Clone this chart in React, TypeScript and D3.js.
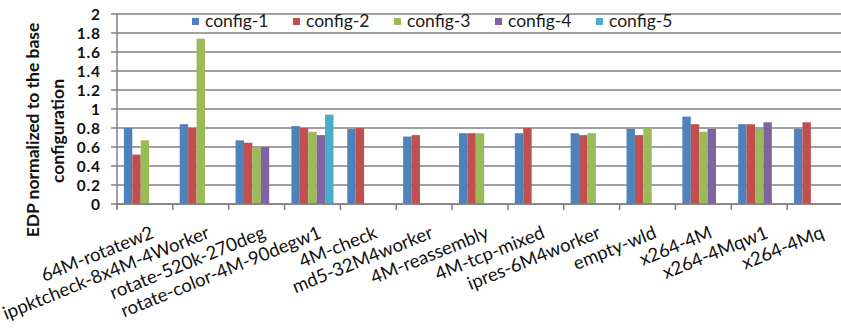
import React from "react";
import * as d3 from "d3";

// Benchmarks on the x axis
const categories = [
  "64M-rotatew2",
  "ippktcheck-8x4M-4Worker",
  "rotate-520k-270deg",
  "rotate-color-4M-90degw1",
  "4M-check",
  "md5-32M4worker",
  "4M-reassembly",
  "4M-tcp-mixed",
  "ipres-6M4worker",
  "empty-wld",
  "x264-4M",
  "x264-4Mqw1",
  "x264-4Mq",
];

const seriesNames = ["config-1", "config-2", "config-3", "config-4", "config-5"];

// EDP per configuration (null = not measured)
const config1 = [0.8, 0.84, 0.67, 0.82, 0.79, 0.71, 0.745, 0.745, 0.745, 0.79, 0.92, 0.84, 0.79];
const config2 = [0.52, 0.8, 0.645, 0.8, 0.8, 0.725, 0.745, 0.8, 0.725, 0.725, 0.84, 0.84, 0.86];
const config3 = [0.67, 1.74, 0.6, 0.76, null, null, 0.745, null, 0.745, 0.8, 0.76, 0.79, null];
const config4 = [null, null, 0.6, 0.725, null, null, null, null, null, null, 0.79, 0.86, null];
const config5 = [null, null, null, 0.94, null, null, null, null, null, null, null, null, null];

const seriesValues: (number | null)[][] = [config1, config2, config3, config4, config5];
const seriesColors = ["#4F81BD", "#C0504D", "#9BBB59", "#8064A2", "#4BACC6"];

const yTickValues = [0, 0.2, 0.4, 0.6, 0.8, 1, 1.2, 1.4, 1.6, 1.8, 2];
const yTickLabels = ["0", "0.2", "0.4", "0.6", "0.8", "1", "1.2", "1.4", "1.6", "1.8", "2"];

const W = 841;
const H = 336;
const plot = { left: 117, right: 843, top: 14, bottom: 204 };
const FONT = "Lato, 'Open Sans', sans-serif";

export default function App() {
  const x = d3
    .scaleBand<string>()
    .domain(categories)
    .range([plot.left, plot.right])
    .paddingInner(0)
    .paddingOuter(0);
  const xs = d3
    .scaleBand<string>()
    .domain(seriesNames)
    .range([0, x.bandwidth()])
    .paddingInner(0)
    .paddingOuter(0.82);
  const y = d3.scaleLinear().domain([0, 2]).range([plot.bottom, plot.top]);

  const boundaries = d3.range(categories.length + 1).map((i) => plot.left + i * x.step());

  return (
    <svg width={W} height={H} style={{ position: "absolute", left: 0, top: 0, background: "#fff" }}>
      <rect x={0} y={0} width={W} height={H} fill="#fff" />
      {/* horizontal gridlines */}
      {yTickValues.map((v) => (
        <line
          key={"g" + v}
          x1={plot.left}
          x2={W}
          y1={y(v)}
          y2={y(v)}
          stroke="#808080"
          strokeWidth={1.5}
        />
      ))}
      {/* legend */}
      <rect x={186} y={15} width={520} height={17} fill="#fff" />
      {seriesNames.map((s, i) => {
        const lx = 192 + i * 101;
        return (
          <g key={"l" + s}>
            <rect x={lx} y={18} width={7} height={7} fill={seriesColors[i]} />
            <text x={lx + 13} y={27} fontFamily={FONT} fontSize={17.5} fill="#1a1a1a">
              {s}
            </text>
          </g>
        );
      })}
      {/* bars */}
      {seriesValues.map((vals, si) =>
        vals.map((v, ci) =>
          v == null ? null : (
            <rect
              key={`b${si}-${ci}`}
              x={(x(categories[ci]) as number) + (xs(seriesNames[si]) as number)}
              y={y(v)}
              width={xs.bandwidth()}
              height={y(0) - y(v)}
              fill={seriesColors[si]}
            />
          )
        )
      )}
      {/* y axis */}
      <line x1={plot.left} x2={plot.left} y1={plot.top} y2={plot.bottom + 5} stroke="#808080" strokeWidth={1.5} />
      {yTickValues.map((v, i) => (
        <g key={"t" + v}>
          <line x1={plot.left - 6} x2={plot.left} y1={y(v)} y2={y(v)} stroke="#808080" strokeWidth={1.5} />
          <text
            x={101}
            y={y(v)}
            dy="0.36em"
            textAnchor="end"
            fontFamily={FONT}
            fontWeight="bold"
            fontSize={15.5}
            letterSpacing={0.9}
            fill="#111"
          >
            {yTickLabels[i]}
          </text>
        </g>
      ))}
      {/* x axis */}
      <line x1={plot.left} x2={W} y1={plot.bottom} y2={plot.bottom} stroke="#808080" strokeWidth={1.5} />
      {boundaries.map((bx, i) => (
        <line key={"xt" + i} x1={bx} x2={bx} y1={plot.bottom} y2={plot.bottom + 6} stroke="#808080" strokeWidth={1.5} />
      ))}
      {categories.map((c) => {
        const cx = (x(c) as number) + x.bandwidth() / 2 + 5;
        const cy = 225;
        return (
          <text
            key={"xl" + c}
            transform={`translate(${cx},${cy}) rotate(-22)`}
            textAnchor="end"
            dy="0.72em"
            fontFamily={FONT}
            fontSize={18.5}
            fill="#111"
          >
            {c}
          </text>
        );
      })}
      {/* y axis title */}
      <text
        transform={`translate(33,130) rotate(-90)`}
        textAnchor="middle"
        dy="0.36em"
        fontFamily={FONT}
        fontWeight="bold"
        fontSize={17.5}
        fill="#111"
      >
        EDP normalized to the base
      </text>
      <text
        transform={`translate(58,131) rotate(-90)`}
        textAnchor="middle"
        dy="0.36em"
        fontFamily={FONT}
        fontWeight="bold"
        fontSize={17.5}
        fill="#111"
      >
        configuration
      </text>
    </svg>
  );
}
